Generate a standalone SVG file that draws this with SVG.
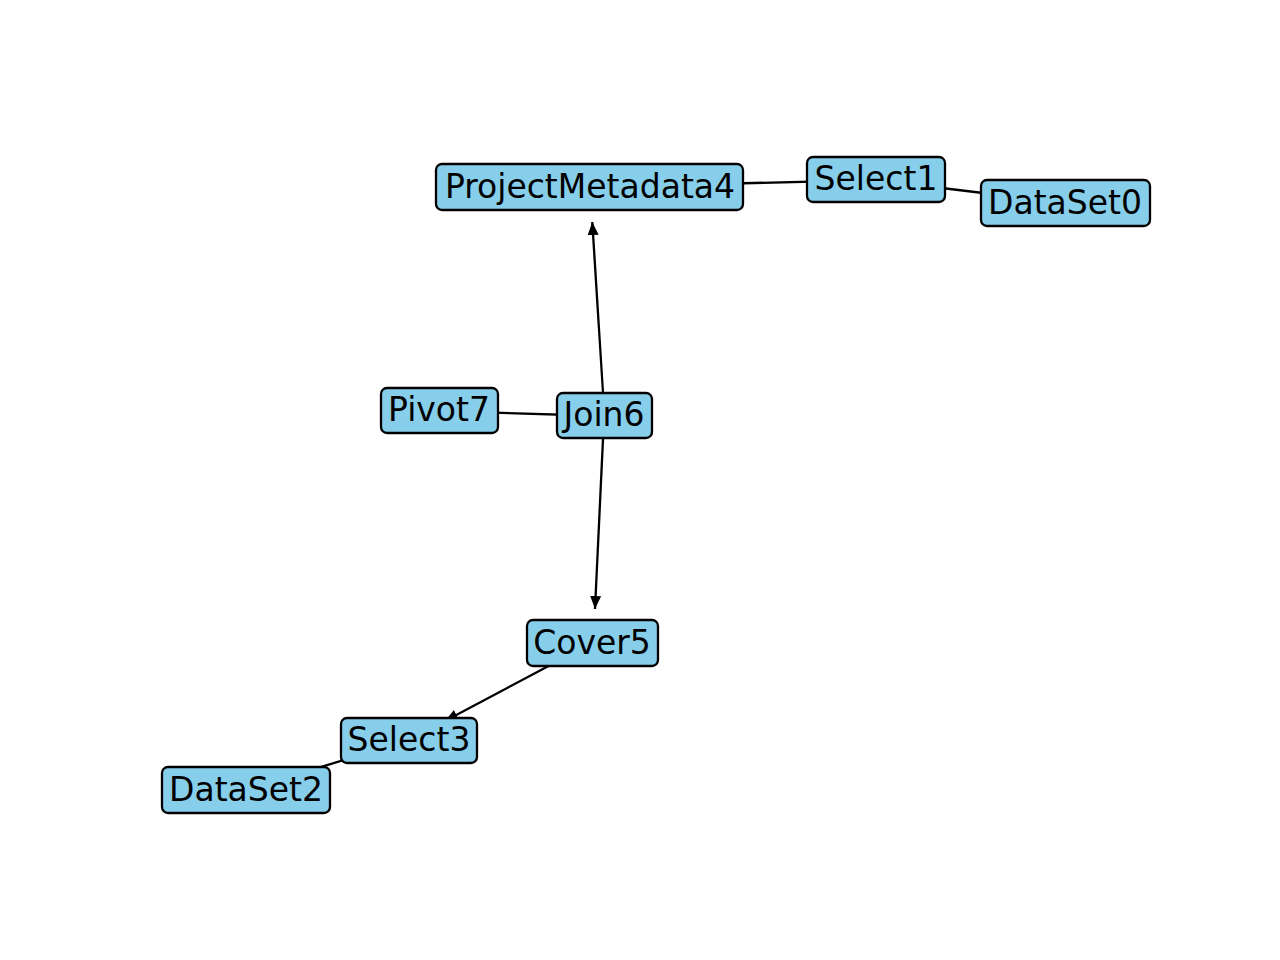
<svg xmlns="http://www.w3.org/2000/svg" width="1280" height="960" viewBox="0 0 1280 960">
<style>
.box{fill:#87ceeb;stroke:#000;stroke-width:2.3}
.lbl{font-family:"DejaVu Sans",sans-serif;font-size:33px;fill:#000;text-anchor:middle}
.edge{stroke:#000;stroke-width:2.3;fill:none}
</style>
<defs>
<marker id="arr" viewBox="0 0 13 11" refX="13" refY="5.5" markerWidth="13" markerHeight="11" markerUnits="userSpaceOnUse" orient="auto">
<path d="M0,0 L13,5.5 L0,11 Z" fill="#000"/>
</marker>
</defs>
<rect width="1280" height="960" fill="#fff"/>
<g id="connectors">
<line class="edge" x1="876" y1="180" x2="590" y2="187"/>
<line class="edge" x1="1065" y1="203" x2="876" y2="180"/>
<line class="edge" x1="439" y1="411" x2="604" y2="416"/>
<line class="edge" x1="246" y1="790" x2="409" y2="740"/>
<line class="edge" x1="603" y1="393" x2="592.3" y2="222" marker-end="url(#arr)"/>
<line class="edge" x1="603" y1="439" x2="595" y2="609" marker-end="url(#arr)"/>
<line class="edge" x1="592" y1="643" x2="445" y2="721" marker-end="url(#arr)"/>
</g>
<g id="ProjectMetadata4"><rect class="box" x="436" y="164" width="307" height="46" rx="6"/><text class="lbl" x="590" y="198">ProjectMetadata4</text></g>
<g id="Select1"><rect class="box" x="807" y="157" width="138" height="45" rx="6"/><text class="lbl" x="876" y="190">Select1</text></g>
<g id="DataSet0"><rect class="box" x="981" y="180" width="169" height="46" rx="6"/><text class="lbl" x="1065" y="214">DataSet0</text></g>
<g id="Pivot7"><rect class="box" x="381" y="388" width="117" height="45" rx="6"/><text class="lbl" x="439" y="421">Pivot7</text></g>
<g id="Join6"><rect class="box" x="557" y="393" width="95" height="45" rx="6"/><text class="lbl" x="604" y="426">Join6</text></g>
<g id="Cover5"><rect class="box" x="527" y="620" width="131" height="46" rx="6"/><text class="lbl" x="592" y="654">Cover5</text></g>
<g id="Select3"><rect class="box" x="341" y="718" width="136" height="45" rx="6"/><text class="lbl" x="409" y="751">Select3</text></g>
<g id="DataSet2"><rect class="box" x="162" y="767" width="168" height="46" rx="6"/><text class="lbl" x="246" y="801">DataSet2</text></g>
</svg>
